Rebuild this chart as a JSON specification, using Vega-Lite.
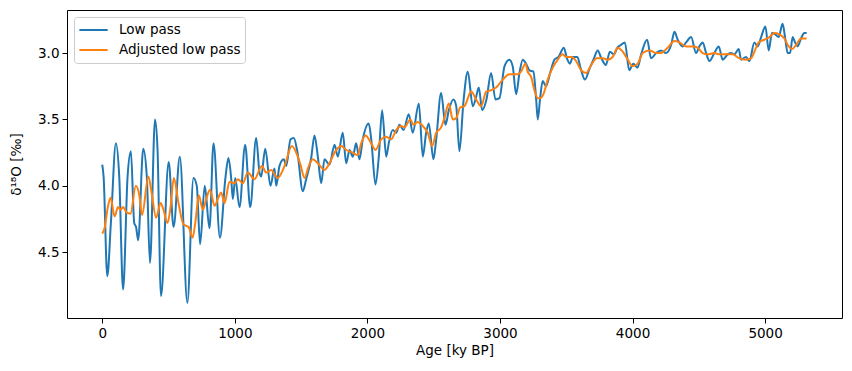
{
  "$schema": "https://vega.github.io/schema/vega-lite/v6.json",
  "autosize": {"type": "none"},
  "width": 775,
  "height": 308,
  "padding": {"left": 67, "top": 10, "right": 10, "bottom": 53},
  "background": "white",
  "config": {
    "view": {"stroke": "#000", "strokeWidth": 1},
    "font": "DejaVu Sans",
    "axis": {
      "grid": false,
      "domain": false,
      "tickColor": "#000",
      "tickSize": 5,
      "tickWidth": 1,
      "labelColor": "#000",
      "labelFont": "DejaVu Sans",
      "labelFontSize": 13.5,
      "labelPadding": 3,
      "titleFont": "DejaVu Sans",
      "titleFontSize": 13.5,
      "titleFontWeight": "normal",
      "titleColor": "#000"
    }
  },
  "datasets": {
    "low": [
      {"age": 0, "d": 3.84}, {"age": 10, "d": 3.93}, {"age": 38, "d": 4.68}, {"age": 65, "d": 4.28},
      {"age": 103, "d": 3.68}, {"age": 128, "d": 3.93}, {"age": 157, "d": 4.78}, {"age": 191, "d": 3.93},
      {"age": 216, "d": 3.74}, {"age": 241, "d": 4.28}, {"age": 255, "d": 4.31}, {"age": 271, "d": 4.41},
      {"age": 309, "d": 3.72}, {"age": 336, "d": 3.93}, {"age": 360, "d": 4.58}, {"age": 398, "d": 3.50},
      {"age": 417, "d": 3.73}, {"age": 443, "d": 4.83}, {"age": 501, "d": 3.82}, {"age": 538, "d": 4.31},
      {"age": 585, "d": 3.78}, {"age": 642, "d": 4.88}, {"age": 688, "d": 3.94}, {"age": 713, "d": 4.00},
      {"age": 738, "d": 4.44}, {"age": 773, "d": 4.00}, {"age": 809, "d": 4.32}, {"age": 839, "d": 3.68},
      {"age": 888, "d": 4.39}, {"age": 928, "d": 3.95}, {"age": 952, "d": 3.79}, {"age": 973, "d": 3.95},
      {"age": 985, "d": 4.10}, {"age": 1003, "d": 3.94}, {"age": 1035, "d": 4.16}, {"age": 1078, "d": 3.69},
      {"age": 1116, "d": 4.16}, {"age": 1161, "d": 3.64}, {"age": 1186, "d": 3.90}, {"age": 1199, "d": 3.93},
      {"age": 1229, "d": 3.72}, {"age": 1269, "d": 4.00}, {"age": 1299, "d": 3.87}, {"age": 1312, "d": 4.00},
      {"age": 1337, "d": 3.85}, {"age": 1369, "d": 3.80}, {"age": 1388, "d": 3.85}, {"age": 1420, "d": 3.65},
      {"age": 1445, "d": 3.64}, {"age": 1471, "d": 3.74}, {"age": 1513, "d": 4.04}, {"age": 1538, "d": 3.95},
      {"age": 1576, "d": 3.79}, {"age": 1601, "d": 3.62}, {"age": 1626, "d": 3.78}, {"age": 1652, "d": 3.98},
      {"age": 1676, "d": 3.80}, {"age": 1714, "d": 3.84}, {"age": 1752, "d": 3.69}, {"age": 1777, "d": 3.78},
      {"age": 1814, "d": 3.60}, {"age": 1840, "d": 3.83}, {"age": 1865, "d": 3.73}, {"age": 1890, "d": 3.78},
      {"age": 1915, "d": 3.68}, {"age": 1940, "d": 3.80}, {"age": 1965, "d": 3.65}, {"age": 2010, "d": 3.53},
      {"age": 2029, "d": 3.65}, {"age": 2061, "d": 3.99}, {"age": 2086, "d": 3.78}, {"age": 2111, "d": 3.43},
      {"age": 2142, "d": 3.78}, {"age": 2161, "d": 3.68}, {"age": 2191, "d": 3.58}, {"age": 2217, "d": 3.60},
      {"age": 2242, "d": 3.54}, {"age": 2272, "d": 3.58}, {"age": 2312, "d": 3.46}, {"age": 2342, "d": 3.60},
      {"age": 2388, "d": 3.38}, {"age": 2418, "d": 3.78}, {"age": 2443, "d": 3.60}, {"age": 2463, "d": 3.53},
      {"age": 2498, "d": 3.80}, {"age": 2519, "d": 3.65}, {"age": 2556, "d": 3.30}, {"age": 2589, "d": 3.54},
      {"age": 2614, "d": 3.43}, {"age": 2649, "d": 3.35}, {"age": 2670, "d": 3.40}, {"age": 2694, "d": 3.74},
      {"age": 2725, "d": 3.36}, {"age": 2757, "d": 3.14}, {"age": 2795, "d": 3.40}, {"age": 2820, "d": 3.33},
      {"age": 2840, "d": 3.26}, {"age": 2866, "d": 3.43}, {"age": 2898, "d": 3.35}, {"age": 2933, "d": 3.15},
      {"age": 2966, "d": 3.35}, {"age": 2996, "d": 3.34}, {"age": 3034, "d": 3.10}, {"age": 3071, "d": 3.05},
      {"age": 3096, "d": 3.10}, {"age": 3122, "d": 3.31}, {"age": 3147, "d": 3.15}, {"age": 3172, "d": 3.05},
      {"age": 3197, "d": 3.08}, {"age": 3222, "d": 3.13}, {"age": 3252, "d": 3.14}, {"age": 3273, "d": 3.35},
      {"age": 3285, "d": 3.50}, {"age": 3303, "d": 3.34}, {"age": 3322, "d": 3.21}, {"age": 3347, "d": 3.25},
      {"age": 3381, "d": 3.14}, {"age": 3411, "d": 3.05}, {"age": 3441, "d": 3.03}, {"age": 3482, "d": 2.96},
      {"age": 3505, "d": 3.04}, {"age": 3528, "d": 3.08}, {"age": 3550, "d": 3.03}, {"age": 3584, "d": 3.03},
      {"age": 3607, "d": 3.11}, {"age": 3641, "d": 3.20}, {"age": 3675, "d": 3.12}, {"age": 3709, "d": 3.04},
      {"age": 3737, "d": 2.98}, {"age": 3765, "d": 3.04}, {"age": 3799, "d": 3.09}, {"age": 3829, "d": 2.99},
      {"age": 3859, "d": 3.01}, {"age": 3886, "d": 2.96}, {"age": 3912, "d": 2.94}, {"age": 3942, "d": 2.92},
      {"age": 3975, "d": 3.13}, {"age": 4006, "d": 3.08}, {"age": 4037, "d": 3.11}, {"age": 4065, "d": 3.01},
      {"age": 4110, "d": 2.90}, {"age": 4140, "d": 3.04}, {"age": 4178, "d": 3.00}, {"age": 4215, "d": 2.98},
      {"age": 4253, "d": 3.00}, {"age": 4291, "d": 2.94}, {"age": 4316, "d": 2.84}, {"age": 4341, "d": 2.90},
      {"age": 4378, "d": 2.95}, {"age": 4404, "d": 2.92}, {"age": 4442, "d": 2.88}, {"age": 4479, "d": 3.00},
      {"age": 4504, "d": 2.95}, {"age": 4529, "d": 2.92}, {"age": 4555, "d": 3.00}, {"age": 4580, "d": 3.06},
      {"age": 4617, "d": 3.00}, {"age": 4650, "d": 2.95}, {"age": 4680, "d": 3.05}, {"age": 4718, "d": 3.01},
      {"age": 4743, "d": 3.00}, {"age": 4768, "d": 3.01}, {"age": 4801, "d": 2.97}, {"age": 4819, "d": 3.05},
      {"age": 4856, "d": 3.03}, {"age": 4881, "d": 3.06}, {"age": 4919, "d": 2.92}, {"age": 4944, "d": 2.95},
      {"age": 4970, "d": 2.88}, {"age": 5002, "d": 2.80}, {"age": 5027, "d": 2.98}, {"age": 5052, "d": 2.85},
      {"age": 5077, "d": 2.86}, {"age": 5102, "d": 2.88}, {"age": 5132, "d": 2.78}, {"age": 5153, "d": 2.90},
      {"age": 5170, "d": 3.00}, {"age": 5188, "d": 3.00}, {"age": 5208, "d": 2.88}, {"age": 5226, "d": 2.92},
      {"age": 5245, "d": 2.95}, {"age": 5271, "d": 2.89}, {"age": 5296, "d": 2.85}, {"age": 5313, "d": 2.85}
    ],
    "adj": [
      {"age": 0, "d": 4.36}, {"age": 17, "d": 4.32}, {"age": 42, "d": 4.16}, {"age": 63, "d": 4.09},
      {"age": 93, "d": 4.23}, {"age": 119, "d": 4.16}, {"age": 138, "d": 4.18}, {"age": 157, "d": 4.16},
      {"age": 183, "d": 4.20}, {"age": 213, "d": 4.21}, {"age": 253, "d": 4.00}, {"age": 281, "d": 4.08},
      {"age": 300, "d": 4.22}, {"age": 348, "d": 3.93}, {"age": 372, "d": 4.05}, {"age": 406, "d": 4.24},
      {"age": 440, "d": 4.13}, {"age": 462, "d": 4.18}, {"age": 492, "d": 4.28}, {"age": 515, "d": 4.16},
      {"age": 540, "d": 3.94}, {"age": 575, "d": 4.13}, {"age": 613, "d": 4.29}, {"age": 651, "d": 4.31},
      {"age": 681, "d": 4.39}, {"age": 704, "d": 4.26}, {"age": 728, "d": 4.07}, {"age": 759, "d": 4.18},
      {"age": 784, "d": 4.10}, {"age": 813, "d": 4.03}, {"age": 847, "d": 4.15}, {"age": 879, "d": 4.08},
      {"age": 897, "d": 4.05}, {"age": 922, "d": 4.13}, {"age": 960, "d": 3.97}, {"age": 998, "d": 3.98},
      {"age": 1023, "d": 3.95}, {"age": 1060, "d": 3.98}, {"age": 1098, "d": 3.90}, {"age": 1148, "d": 3.95},
      {"age": 1204, "d": 3.85}, {"age": 1237, "d": 3.90}, {"age": 1274, "d": 3.88}, {"age": 1324, "d": 3.94},
      {"age": 1375, "d": 3.85}, {"age": 1430, "d": 3.70}, {"age": 1475, "d": 3.78}, {"age": 1495, "d": 3.84},
      {"age": 1526, "d": 3.94}, {"age": 1558, "d": 3.85}, {"age": 1588, "d": 3.80}, {"age": 1626, "d": 3.83},
      {"age": 1676, "d": 3.88}, {"age": 1714, "d": 3.83}, {"age": 1752, "d": 3.75}, {"age": 1802, "d": 3.70},
      {"age": 1840, "d": 3.73}, {"age": 1890, "d": 3.75}, {"age": 1927, "d": 3.77}, {"age": 1953, "d": 3.68},
      {"age": 1986, "d": 3.62}, {"age": 2029, "d": 3.68}, {"age": 2061, "d": 3.73}, {"age": 2104, "d": 3.65},
      {"age": 2142, "d": 3.63}, {"age": 2179, "d": 3.65}, {"age": 2217, "d": 3.58}, {"age": 2255, "d": 3.55},
      {"age": 2280, "d": 3.56}, {"age": 2323, "d": 3.50}, {"age": 2348, "d": 3.54}, {"age": 2378, "d": 3.52},
      {"age": 2418, "d": 3.55}, {"age": 2455, "d": 3.60}, {"age": 2488, "d": 3.70}, {"age": 2519, "d": 3.60},
      {"age": 2556, "d": 3.56}, {"age": 2581, "d": 3.49}, {"age": 2614, "d": 3.38}, {"age": 2644, "d": 3.50},
      {"age": 2670, "d": 3.49}, {"age": 2700, "d": 3.41}, {"age": 2732, "d": 3.40}, {"age": 2783, "d": 3.29},
      {"age": 2820, "d": 3.35}, {"age": 2858, "d": 3.40}, {"age": 2896, "d": 3.29}, {"age": 2933, "d": 3.28},
      {"age": 2971, "d": 3.26}, {"age": 3021, "d": 3.20}, {"age": 3071, "d": 3.16}, {"age": 3134, "d": 3.16},
      {"age": 3159, "d": 3.14}, {"age": 3192, "d": 3.08}, {"age": 3209, "d": 3.14}, {"age": 3235, "d": 3.18},
      {"age": 3260, "d": 3.28}, {"age": 3285, "d": 3.34}, {"age": 3303, "d": 3.34}, {"age": 3328, "d": 3.31},
      {"age": 3360, "d": 3.20}, {"age": 3398, "d": 3.11}, {"age": 3436, "d": 3.05}, {"age": 3473, "d": 3.01},
      {"age": 3499, "d": 3.03}, {"age": 3537, "d": 3.03}, {"age": 3574, "d": 3.06}, {"age": 3612, "d": 3.13},
      {"age": 3650, "d": 3.15}, {"age": 3688, "d": 3.09}, {"age": 3730, "d": 3.04}, {"age": 3775, "d": 3.04},
      {"age": 3813, "d": 3.05}, {"age": 3850, "d": 3.03}, {"age": 3888, "d": 2.96}, {"age": 3926, "d": 2.99},
      {"age": 3964, "d": 3.05}, {"age": 4001, "d": 3.10}, {"age": 4039, "d": 3.08}, {"age": 4077, "d": 3.00},
      {"age": 4127, "d": 2.98}, {"age": 4178, "d": 3.00}, {"age": 4215, "d": 3.00}, {"age": 4265, "d": 2.96},
      {"age": 4316, "d": 2.91}, {"age": 4354, "d": 2.92}, {"age": 4404, "d": 2.95}, {"age": 4454, "d": 2.95},
      {"age": 4491, "d": 2.96}, {"age": 4529, "d": 3.00}, {"age": 4567, "d": 3.01}, {"age": 4617, "d": 3.00},
      {"age": 4655, "d": 3.01}, {"age": 4706, "d": 3.01}, {"age": 4755, "d": 3.01}, {"age": 4806, "d": 3.04},
      {"age": 4856, "d": 3.05}, {"age": 4894, "d": 3.04}, {"age": 4919, "d": 2.99}, {"age": 4951, "d": 2.92},
      {"age": 4994, "d": 2.90}, {"age": 5032, "d": 2.88}, {"age": 5070, "d": 2.85}, {"age": 5108, "d": 2.86},
      {"age": 5145, "d": 2.89}, {"age": 5178, "d": 2.95}, {"age": 5203, "d": 2.97}, {"age": 5233, "d": 2.94},
      {"age": 5271, "d": 2.89}, {"age": 5313, "d": 2.89}
    ]
  },
  "encoding": {
    "x": {
      "field": "age", "type": "quantitative",
      "scale": {"domain": [-266, 5580], "nice": false, "zero": false},
      "axis": {"title": "Age [ky BP]", "values": [0, 1000, 2000, 3000, 4000, 5000], "format": "d", "titlePadding": 4}
    },
    "y": {
      "field": "d", "type": "quantitative",
      "scale": {"domain": [2.676, 4.995], "nice": false, "zero": false, "reverse": true},
      "axis": {"title": "δ¹⁸O [‰]", "values": [3.0, 3.5, 4.0, 4.5], "format": ".1f", "titlePadding": 14}
    },
    "color": {
      "field": "s", "type": "nominal",
      "scale": {"domain": ["Low pass", "Adjusted low pass"], "range": ["#1f77b4", "#ff7f0e"]},
      "legend": {
        "title": null,
        "orient": "top-left",
        "offset": 7,
        "symbolType": "stroke",
        "symbolStrokeWidth": 2,
        "symbolSize": 800,
        "clipHeight": 18,
        "labelFont": "DejaVu Sans",
        "labelFontSize": 13.5,
        "labelColor": "#000",
        "labelOffset": 10,
        "fillColor": "white",
        "strokeColor": "#cccccc",
        "cornerRadius": 3,
        "padding": 4,
        "rowPadding": 2
      }
    }
  },
  "layer": [
    {
      "data": {"name": "low"},
      "transform": [{"calculate": "'Low pass'", "as": "s"}],
      "mark": {"type": "line", "strokeWidth": 2, "interpolate": "monotone", "clip": true}
    },
    {
      "data": {"name": "adj"},
      "transform": [{"calculate": "'Adjusted low pass'", "as": "s"}],
      "mark": {"type": "line", "strokeWidth": 2, "interpolate": "monotone", "clip": true}
    }
  ]
}
